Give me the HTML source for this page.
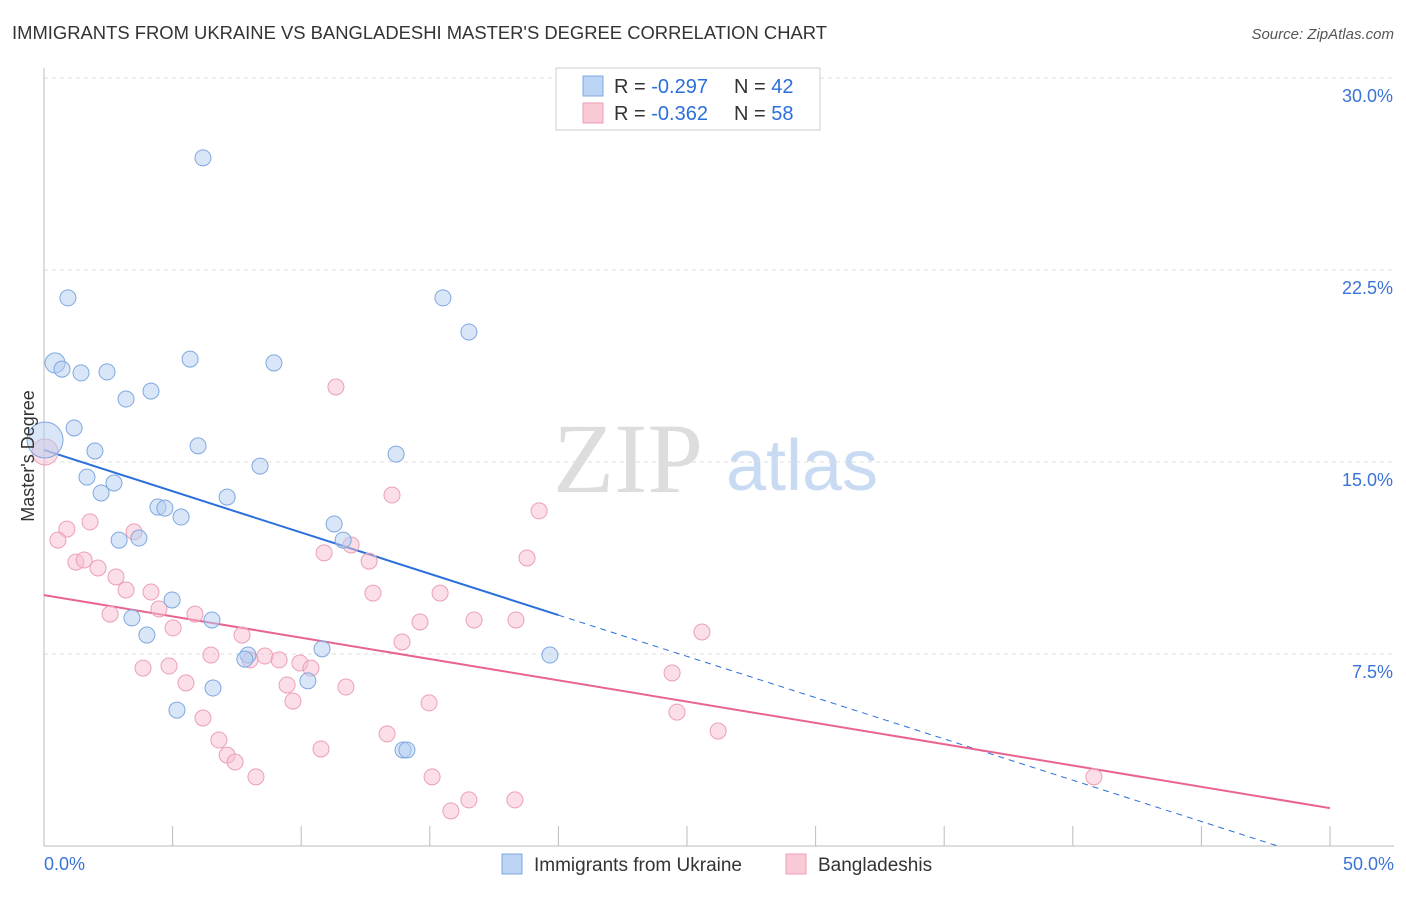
<!DOCTYPE html>
<html><head><meta charset="utf-8"><style>
body{margin:0;background:#fff;font-family:"Liberation Sans",sans-serif;}
</style></head><body>
<svg id="chart" width="1406" height="892" xmlns="http://www.w3.org/2000/svg" font-family="Liberation Sans, sans-serif">
<text x="12" y="39" font-size="18" fill="#333" textLength="815" lengthAdjust="spacingAndGlyphs">IMMIGRANTS FROM UKRAINE VS BANGLADESHI MASTER'S DEGREE CORRELATION CHART</text>
<text x="1394" y="39" font-size="15" fill="#555" text-anchor="end" font-style="italic">Source: ZipAtlas.com</text>
<g><text x="628" y="492" font-size="100" font-family="Liberation Serif, serif" fill="#ddd" text-anchor="middle">ZIP</text><text x="802" y="490" font-size="72" fill="#c9dbf2" text-anchor="middle">atlas</text></g>
<g id="grid"></g><g id="axes"></g><g id="lines"></g><g id="pts"></g>
<text transform="translate(34,456) rotate(-90)" font-size="18" fill="#333" text-anchor="middle">Master's Degree</text>
<g>
<rect x="556" y="68" width="264" height="62" fill="#fff" stroke="#ccc"/>
<rect x="583" y="76" width="20" height="20" fill="#bcd5f5" stroke="#7fa8e0"/>
<text x="614" y="93" font-size="20" fill="#333">R = <tspan fill="#2a6fdb">-0.297</tspan></text>
<text x="734" y="93" font-size="20" fill="#333">N = <tspan fill="#2a6fdb">42</tspan></text>
<rect x="583" y="103" width="20" height="20" fill="#f9c9d6" stroke="#eba0b6"/>
<text x="614" y="120" font-size="20" fill="#333">R = <tspan fill="#2a6fdb">-0.362</tspan></text>
<text x="734" y="120" font-size="20" fill="#333">N = <tspan fill="#2a6fdb">58</tspan></text>
</g>
<g>
<rect x="502" y="854" width="20" height="20" fill="#bcd5f5" stroke="#7fa8e0"/>
<text x="534" y="871" font-size="19" fill="#333">Immigrants from Ukraine</text>
<rect x="786" y="854" width="20" height="20" fill="#f9c9d6" stroke="#eba0b6"/>
<text x="818" y="871" font-size="19" fill="#333">Bangladeshis</text>
</g>
</svg>
<script>
const blueX=[6.18,0.93,15.51,16.52,0.43,0.70,1.44,2.45,5.68,8.94,3.19,4.16,1.17,0.04,5.99,1.98,13.69,8.40,1.67,2.72,2.22,7.12,4.43,4.70,5.33,11.28,2.92,3.69,11.63,4.98,3.42,6.53,4.00,10.81,19.67,7.93,7.81,6.57,10.26,5.17,13.96,14.11];
const blueY=[26.88,21.41,21.41,20.08,18.87,18.63,18.48,18.52,19.02,18.87,17.46,17.77,16.33,15.86,15.63,15.43,15.31,14.84,14.41,14.18,13.79,13.63,13.24,13.20,12.85,12.58,11.95,12.03,11.95,9.61,8.91,8.83,8.24,7.70,7.46,7.46,7.30,6.17,6.45,5.31,3.75,3.75];
const pinkX=[11.35,13.53,19.25,1.79,0.89,3.50,0.54,10.89,11.94,18.78,12.64,1.24,1.56,2.10,2.80,3.19,4.16,12.79,15.40,4.47,2.57,5.87,16.72,18.35,14.62,5.02,7.70,25.58,13.92,6.49,8.59,9.14,8.01,9.95,10.38,3.85,4.86,24.42,5.52,9.45,11.74,9.68,14.97,24.61,6.18,26.21,13.34,6.80,10.77,7.12,7.43,8.24,15.09,40.82,16.52,18.31,15.82,0.04];
const pinkY=[17.93,13.71,13.09,12.66,12.38,12.27,11.95,11.45,11.76,11.25,11.13,11.09,11.17,10.86,10.51,10.00,9.92,9.88,9.88,9.26,9.06,9.06,8.83,8.83,8.75,8.52,8.24,8.36,7.97,7.46,7.42,7.27,7.27,7.15,6.95,6.95,7.03,6.76,6.37,6.29,6.21,5.66,5.59,5.23,5.00,4.49,4.38,4.14,3.79,3.55,3.28,2.70,2.70,2.70,1.80,1.80,1.37,15.39];
const yTicks=[7.5,15.0,22.5,30.0];
const xTicks=[0,5,10,15,20,25,30,35,40,45,50];
const blueTrend=[15.47,-0.3225];const pinkTrend=[9.80,-0.1664];
const NS='http://www.w3.org/2000/svg';
const sx=v=>44+v*25.72, sy=v=>846-v*25.6;
function mk(t,a,p){const e=document.createElementNS(NS,t);for(const k in a)e.setAttribute(k,a[k]);p.appendChild(e);return e;}
const grid=document.getElementById('grid'),axes=document.getElementById('axes'),lines=document.getElementById('lines'),pts=document.getElementById('pts');
yTicks.forEach(t=>{const l=mk('line',{x1:44,x2:1394,y1:sy(t),y2:sy(t),stroke:'#ddd','stroke-dasharray':'4,4'},grid);


const tx=mk('text',{x:1393,y:sy(t)+24,'font-size':18,fill:'#3b73d6','text-anchor':'end'},grid);tx.textContent=t.toFixed(1)+'%';

});
const ax=mk('line',{x1:44,x2:44,y1:68,y2:846,stroke:'#bbb'},axes);


const bx=mk('line',{x1:44,x2:1394,y1:846,y2:846,stroke:'#bbb'},axes);


xTicks.forEach(t=>{const l=mk('line',{x1:sx(t),x2:sx(t),y1:826,y2:846,stroke:'#bbb'},axes);

});
[[0,'start',44],[50,'end',1394]].forEach(([t,a,x])=>{const tx=mk('text',{x:x,y:870,'font-size':18,fill:'#3b73d6','text-anchor':a},axes);tx.textContent=t.toFixed(1)+'%';

});
const f=(tr,x)=>tr[0]+tr[1]*x;
let l1=mk('line',{x1:sx(0),y1:sy(f(blueTrend,0)),x2:sx(20),y2:sy(f(blueTrend,20)),stroke:'#2a6fdb','stroke-width':2},lines);


const xe=-blueTrend[0]/blueTrend[1];
let l2=mk('line',{x1:sx(20),y1:sy(f(blueTrend,20)),x2:sx(xe),y2:sy(0),stroke:'#2a6fdb','stroke-width':1,'stroke-dasharray':'6,5'},lines);


let l3=mk('line',{x1:sx(0),y1:sy(f(pinkTrend,0)),x2:sx(50),y2:sy(f(pinkTrend,50)),stroke:'#e8648f','stroke-width':2},lines);


pinkX.forEach((x,i)=>{const c=mk('circle',{cx:sx(x),cy:sy(pinkY[i]),r:i==57?13:8,fill:'rgba(248,190,207,0.5)',stroke:'#eba0b6','stroke-width':1},pts);

});
blueX.forEach((x,i)=>{const c=mk('circle',{cx:sx(x),cy:sy(blueY[i]),r:i==13?18:(i==4?10:8),fill:'rgba(180,206,242,0.5)',stroke:'#7fa8e0','stroke-width':1},pts);

});
</script>
</body></html>
